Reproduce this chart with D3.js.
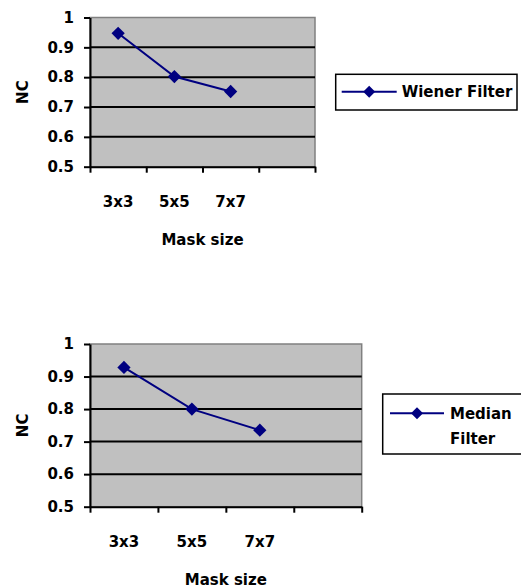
<!DOCTYPE html>
<html>
<head>
<meta charset="utf-8">
<script src="https://cdn.jsdelivr.net/npm/d3@7"></script>
<style>
body{margin:0;background:#fff;}
text{font-family:"DejaVu Sans",sans-serif;font-weight:bold;font-size:15px;fill:#000;}
</style>
</head>
<body>
<svg id="chart" width="521" height="586"></svg>
<script>
// values
var categories=["3x3","5x5","7x7"];
var slotCount=4;            // x axis has one empty slot after 7x7
var wienerNC=[0.947,0.802,0.752];
var medianNC=[0.928,0.800,0.735];
var yTicks=[0.5,0.6,0.7,0.8,0.9,1];
var xTitle="Mask size";
var yTitle="NC";
var wienerLegend=["Wiener Filter"];
var medianLegend=["Median","Filter"];

var svg=d3.select("#chart");
var lineColor="#000080";

function drawChart(cfg){
    var g=svg.append("g");
    var slots=categories.slice();
    while (slots.length<slotCount) slots.push("_"+slots.length);

    var x=d3.scaleBand().domain(slots).range([cfg.left,cfg.right]);
    var xEdge=d3.scaleLinear().domain([0,slotCount]).range([cfg.left,cfg.right]);
    var y=d3.scaleLinear().domain([0.5,1]).range([cfg.bottom,cfg.top]);

    // plot area
    g.append("rect")
        .attr("x",cfg.left).attr("y",cfg.top)
        .attr("width",cfg.right-cfg.left).attr("height",cfg.bottom-cfg.top)
        .attr("fill","#c0c0c0").attr("stroke","#808080").attr("stroke-width",1.5);

    // gridlines
    g.selectAll("line.grid").data(yTicks.filter(function(d){return d>0.5 && d<1;}))
        .enter().append("line").attr("class","grid")
        .attr("x1",cfg.left).attr("x2",cfg.right)
        .attr("y1",function(d){return y(d);}).attr("y2",function(d){return y(d);})
        .attr("stroke","#000").attr("stroke-width",2);

    // y axis
    var yAxis=g.append("g").attr("transform","translate("+cfg.left+",0)")
        .call(d3.axisLeft(y).tickValues(yTicks).tickSize(6).tickSizeOuter(0).tickPadding(10)
            .tickFormat(function(d){return String(d);}));
    yAxis.select(".domain").attr("stroke","#000").attr("stroke-width",2);
    yAxis.selectAll(".tick line").attr("stroke","#000").attr("stroke-width",2);
    yAxis.selectAll(".tick text").attr("font-size",null).attr("font-family",null);
    yAxis.attr("font-size",null).attr("font-family",null);

    // x axis: ticks on slot edges, labels on slot centres
    var xAxis=g.append("g").attr("transform","translate(0,"+cfg.bottom+")")
        .call(d3.axisBottom(xEdge).tickValues(d3.range(slotCount+1)).tickSize(6).tickSizeOuter(0)
            .tickFormat(""));
    xAxis.select(".domain").attr("stroke","#000").attr("stroke-width",2);
    xAxis.selectAll(".tick line").attr("stroke","#000").attr("stroke-width",2);

    g.selectAll("text.xlab").data(categories).enter().append("text").attr("class","xlab")
        .attr("x",function(d){return x(d)+x.bandwidth()/2;})
        .attr("y",cfg.bottom+40)
        .attr("text-anchor","middle")
        .text(function(d){return d;});

    // titles
    g.append("text")
        .attr("x",(cfg.left+cfg.right)/2).attr("y",cfg.bottom+78)
        .attr("text-anchor","middle").text(xTitle);
    g.append("text")
        .attr("transform","translate(23,"+((cfg.top+cfg.bottom)/2)+") rotate(-90)")
        .attr("text-anchor","middle").attr("dominant-baseline","central")
        .text(yTitle);

    // series
    var pts=categories.map(function(c,i){return [x(c)+x.bandwidth()/2,y(cfg.values[i])];});
    g.append("path").attr("d",d3.line()(pts))
        .attr("fill","none").attr("stroke",lineColor).attr("stroke-width",2);
    g.selectAll("path.mark").data(pts).enter().append("path").attr("class","mark")
        .attr("d",d3.symbol(d3.symbolSquare,88)())
        .attr("transform",function(p){return "translate("+p[0]+","+p[1]+") rotate(45)";})
        .attr("fill",lineColor);

    // legend
    var L=cfg.legend;
    g.append("rect").attr("x",L.x).attr("y",L.y).attr("width",L.w).attr("height",L.h)
        .attr("fill","#fff").attr("stroke","#000").attr("stroke-width",1.5);
    g.append("line").attr("x1",L.lx1).attr("x2",L.lx2).attr("y1",L.ly).attr("y2",L.ly)
        .attr("stroke",lineColor).attr("stroke-width",2);
    g.append("path").attr("d",d3.symbol(d3.symbolSquare,72)())
        .attr("transform","translate("+((L.lx1+L.lx2)/2)+","+L.ly+") rotate(45)")
        .attr("fill",lineColor);
    g.selectAll("text.leg").data(L.text).enter().append("text").attr("class","leg")
        .attr("x",L.tx).attr("y",function(d,i){return L.ly+5.5+i*25;})
        .text(function(d){return d;});
}

drawChart({left:90,right:315,top:17.5,bottom:166.7,values:wienerNC,
    legend:{x:335.7,y:74.3,w:181.3,h:35.7,lx1:341.7,lx2:396.7,ly:91.7,tx:401.7,text:wienerLegend}});
drawChart({left:90,right:361.7,top:344,bottom:506.7,values:medianNC,
    legend:{x:382.7,y:394,w:145,h:60,lx1:390,lx2:444,ly:413.3,tx:450,text:medianLegend}});
</script>
</body>
</html>
